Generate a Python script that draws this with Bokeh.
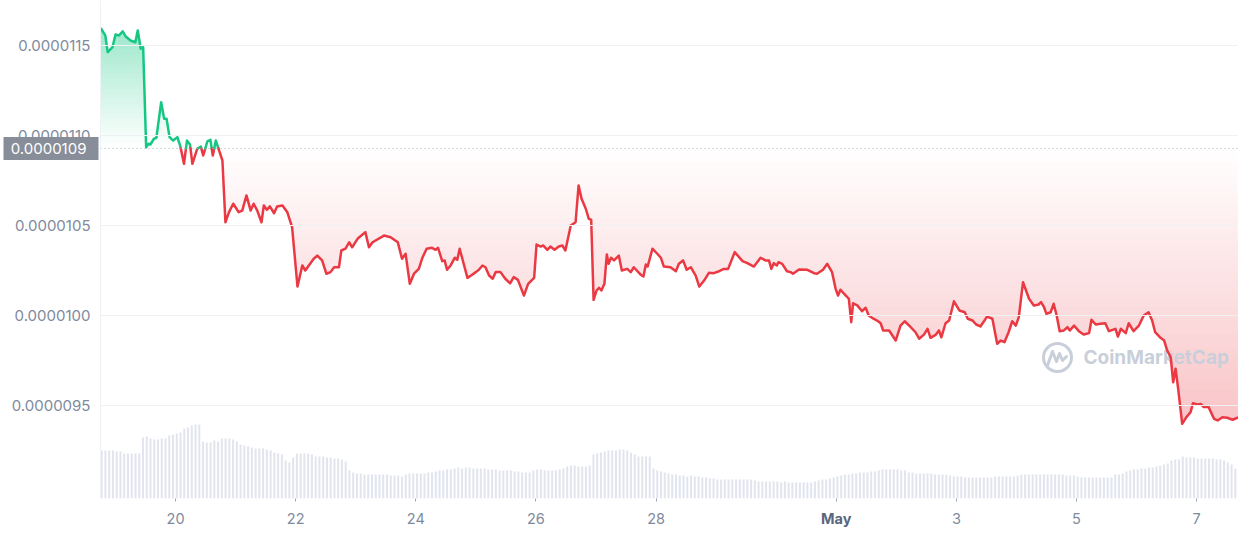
import numpy as np
from bokeh.plotting import figure
from bokeh.models import (Range1d, FixedTicker, NumeralTickFormatter, Span, LinearAxis,
                          CustomJSTickFormatter)
from bokeh.embed import file_html
from bokeh.resources import INLINE
from bokeh.core.properties import value

# ---- data (x = day counted from 1 April; 31 = 1 May) ----
price_day = [
    18.76, 18.83, 18.87, 18.95, 19.00, 19.06, 19.12, 19.17, 19.25, 19.33,
    19.37, 19.42, 19.46, 19.51, 19.55, 19.58, 19.64, 19.68, 19.76, 19.81,
    19.85, 19.90, 19.96, 20.03, 20.08, 20.14, 20.19, 20.24, 20.28, 20.36,
    20.42, 20.46, 20.53, 20.58, 20.62, 20.67, 20.72, 20.78, 20.83, 20.89,
    20.96, 21.05, 21.11, 21.18, 21.25, 21.30, 21.36, 21.43, 21.47, 21.52,
    21.57, 21.64, 21.69, 21.78, 21.86, 21.94, 22.03, 22.11, 22.16, 22.30,
    22.36, 22.44, 22.51, 22.58, 22.64, 22.72, 22.76, 22.83, 22.89, 22.94,
    23.03, 23.16, 23.22, 23.28, 23.47, 23.58, 23.70, 23.77, 23.83, 23.90,
    23.97, 24.05, 24.11, 24.18, 24.27, 24.33, 24.37, 24.44, 24.48, 24.52,
    24.58, 24.65, 24.69, 24.73, 24.86, 24.92, 25.00, 25.05, 25.11, 25.16,
    25.22, 25.28, 25.33, 25.41, 25.49, 25.57, 25.63, 25.70, 25.80, 25.87,
    25.97, 26.01, 26.08, 26.12, 26.19, 26.24, 26.31, 26.38, 26.44, 26.49,
    26.58, 26.66, 26.71, 26.76, 26.83, 26.88, 26.92, 26.96, 27.01, 27.05,
    27.09, 27.14, 27.18, 27.21, 27.25, 27.30, 27.38, 27.43, 27.52, 27.58,
    27.63, 27.74, 27.79, 27.83, 27.86, 27.94, 28.02, 28.08, 28.13, 28.24,
    28.33, 28.38, 28.45, 28.51, 28.58, 28.66, 28.72, 28.80, 28.88, 28.96,
    29.05, 29.13, 29.20, 29.31, 29.44, 29.52, 29.63, 29.74, 29.82, 29.88,
    29.92, 29.96, 30.01, 30.04, 30.10, 30.18, 30.24, 30.28, 30.38, 30.52,
    30.63, 30.68, 30.78, 30.85, 30.93, 30.99, 31.03, 31.07, 31.16, 31.21,
    31.25, 31.28, 31.35, 31.43, 31.49, 31.54, 31.62, 31.68, 31.74, 31.78,
    31.88, 31.99, 32.07, 32.14, 32.24, 32.32, 32.38, 32.46, 32.52, 32.57,
    32.66, 32.71, 32.75, 32.82, 32.88, 32.96, 33.05, 33.14, 33.19, 33.27,
    33.33, 33.40, 33.46, 33.51, 33.60, 33.68, 33.74, 33.80, 33.87, 33.93,
    33.99, 34.04, 34.11, 34.21, 34.29, 34.37, 34.41, 34.46, 34.50, 34.57,
    34.62, 34.67, 34.72, 34.79, 34.85, 34.89, 34.96, 35.04, 35.12, 35.21,
    35.25, 35.32, 35.40, 35.48, 35.54, 35.65, 35.69, 35.74, 35.82, 35.87,
    35.95, 36.04, 36.12, 36.20, 36.26, 36.31, 36.40, 36.46, 36.51, 36.57,
    36.61, 36.65, 36.69, 36.76, 36.83, 36.90, 36.94, 37.01, 37.07, 37.12,
    37.20, 37.29, 37.35, 37.43, 37.51, 37.60, 37.68,
]
price = [
    115.93e-7, 115.56e-7, 114.63e-7, 114.91e-7, 115.61e-7, 115.56e-7, 115.79e-7, 115.50e-7, 115.28e-7, 115.18e-7,
    115.83e-7, 114.82e-7, 114.91e-7, 109.35e-7, 109.54e-7, 109.50e-7, 109.82e-7, 109.87e-7, 111.85e-7, 110.93e-7,
    110.93e-7, 109.91e-7, 109.72e-7, 109.91e-7, 109.39e-7, 108.43e-7, 109.72e-7, 109.50e-7, 108.43e-7, 109.26e-7,
    109.39e-7, 108.89e-7, 109.68e-7, 109.76e-7, 108.89e-7, 109.72e-7, 109.21e-7, 108.61e-7, 105.18e-7, 105.74e-7,
    106.21e-7, 105.74e-7, 105.83e-7, 106.67e-7, 105.83e-7, 106.21e-7, 105.83e-7, 105.18e-7, 106.11e-7, 105.87e-7,
    106.06e-7, 105.68e-7, 106.06e-7, 106.11e-7, 105.74e-7, 104.91e-7, 101.61e-7, 102.78e-7, 102.50e-7, 103.15e-7,
    103.33e-7, 103.06e-7, 102.32e-7, 102.41e-7, 102.68e-7, 102.68e-7, 103.61e-7, 103.71e-7, 104.07e-7, 103.79e-7,
    104.26e-7, 104.63e-7, 103.79e-7, 104.07e-7, 104.44e-7, 104.35e-7, 104.07e-7, 103.15e-7, 103.43e-7, 101.76e-7,
    102.32e-7, 102.59e-7, 103.21e-7, 103.71e-7, 103.76e-7, 103.65e-7, 103.76e-7, 103.02e-7, 103.06e-7, 102.54e-7,
    102.78e-7, 103.21e-7, 103.09e-7, 103.71e-7, 102.09e-7, 102.22e-7, 102.41e-7, 102.54e-7, 102.78e-7, 102.68e-7,
    102.22e-7, 102.04e-7, 102.41e-7, 102.41e-7, 102.04e-7, 101.79e-7, 102.13e-7, 101.98e-7, 101.11e-7, 101.76e-7,
    102.09e-7, 103.94e-7, 103.83e-7, 103.89e-7, 103.65e-7, 103.83e-7, 103.65e-7, 103.83e-7, 103.89e-7, 103.61e-7,
    105.00e-7, 105.18e-7, 107.22e-7, 106.48e-7, 105.93e-7, 105.37e-7, 105.32e-7, 100.87e-7, 101.39e-7, 101.54e-7,
    101.39e-7, 101.76e-7, 103.39e-7, 102.87e-7, 103.21e-7, 103.06e-7, 103.33e-7, 102.50e-7, 102.59e-7, 102.41e-7,
    102.68e-7, 102.28e-7, 102.17e-7, 102.83e-7, 102.72e-7, 103.71e-7, 103.43e-7, 103.21e-7, 102.72e-7, 102.68e-7,
    102.46e-7, 102.87e-7, 103.06e-7, 102.54e-7, 102.68e-7, 102.22e-7, 101.61e-7, 101.94e-7, 102.37e-7, 102.35e-7,
    102.46e-7, 102.59e-7, 102.59e-7, 103.52e-7, 103.02e-7, 102.91e-7, 102.72e-7, 103.21e-7, 103.06e-7, 103.06e-7,
    102.59e-7, 102.91e-7, 102.78e-7, 102.96e-7, 102.87e-7, 102.46e-7, 102.41e-7, 102.32e-7, 102.56e-7, 102.54e-7,
    102.35e-7, 102.32e-7, 102.54e-7, 102.87e-7, 102.41e-7, 101.48e-7, 101.11e-7, 101.43e-7, 101.11e-7, 100.93e-7,
    99.63e-7, 100.68e-7, 100.56e-7, 100.24e-7, 100.43e-7, 100.00e-7, 99.82e-7, 99.72e-7, 99.57e-7, 99.17e-7,
    99.17e-7, 98.61e-7, 99.44e-7, 99.68e-7, 99.35e-7, 99.07e-7, 98.71e-7, 98.94e-7, 99.26e-7, 98.76e-7,
    98.94e-7, 99.17e-7, 98.79e-7, 99.57e-7, 99.72e-7, 100.79e-7, 100.28e-7, 100.18e-7, 99.82e-7, 99.72e-7,
    99.50e-7, 99.39e-7, 99.68e-7, 99.94e-7, 99.82e-7, 98.43e-7, 98.61e-7, 98.52e-7, 99.07e-7, 99.68e-7,
    99.44e-7, 99.91e-7, 101.85e-7, 100.93e-7, 100.56e-7, 100.61e-7, 100.74e-7, 100.46e-7, 100.09e-7, 100.18e-7,
    100.65e-7, 100.00e-7, 99.13e-7, 99.17e-7, 99.35e-7, 99.17e-7, 99.44e-7, 99.13e-7, 98.94e-7, 99.02e-7,
    99.76e-7, 99.50e-7, 99.54e-7, 99.57e-7, 99.13e-7, 99.26e-7, 98.83e-7, 99.26e-7, 99.02e-7, 99.57e-7,
    99.13e-7, 99.44e-7, 100.00e-7, 100.18e-7, 99.72e-7, 99.07e-7, 98.76e-7, 98.61e-7, 98.06e-7, 97.68e-7,
    96.29e-7, 97.04e-7, 96.02e-7, 93.98e-7, 94.35e-7, 94.63e-7, 95.13e-7, 95.06e-7, 95.09e-7, 94.91e-7,
    94.91e-7, 94.26e-7, 94.17e-7, 94.35e-7, 94.32e-7, 94.21e-7, 94.32e-7,
]
ref_price = 109.28e-7
ref_label = "0.0000109"

# volume bars, one every 1.5 hours (arbitrary units)
vol_start_day = 18.77
vol_step_day = 1 / 16
volume = [
    48, 48, 48, 48, 47, 47, 45, 45, 45, 45, 45,
    61, 62, 60, 59, 59, 60, 60, 63, 64, 65,
    66, 70, 71, 73, 74, 74, 57, 56, 56, 58,
    57, 60, 60, 60, 59, 57, 54, 53, 52, 51,
    50, 50, 50, 49, 48, 46, 45, 44, 38, 36,
    41, 45, 45, 45, 45, 44, 42, 42, 42, 41,
    41, 40, 40, 39, 37, 28, 26, 25, 25, 24,
    24, 24, 24, 24, 24, 24, 23, 23, 23, 22,
    24, 25, 25, 25, 25, 25, 26, 26, 27, 28,
    28, 29, 29, 30, 31, 30, 31, 31, 30, 30,
    30, 30, 29, 29, 29, 28, 28, 28, 28, 27,
    27, 26, 26, 26, 28, 29, 29, 28, 28, 28,
    28, 29, 30, 32, 33, 33, 32, 32, 32, 33,
    44, 45, 46, 47, 48, 48, 48, 49, 49, 48,
    46, 44, 42, 42, 42, 42, 30, 28, 27, 26,
    25, 24, 24, 23, 23, 22, 23, 22, 22, 21,
    21, 20, 20, 19, 19, 19, 19, 19, 19, 19,
    19, 19, 19, 18, 17, 17, 17, 17, 17, 17,
    16, 17, 16, 16, 16, 16, 16, 16, 16, 17,
    18, 19, 19, 20, 21, 22, 23, 24, 24, 25,
    25, 26, 26, 26, 27, 27, 28, 29, 29, 29,
    29, 29, 28, 28, 26, 26, 25, 25, 25, 25,
    25, 24, 24, 24, 24, 23, 22, 22, 22, 21,
    21, 21, 21, 21, 21, 21, 21, 22, 22, 22,
    22, 22, 22, 23, 24, 24, 24, 24, 24, 24,
    24, 24, 24, 24, 24, 24, 23, 23, 23, 22,
    21, 21, 21, 21, 21, 21, 21, 21, 21, 24,
    24, 25, 27, 28, 29, 29, 30, 30, 31, 31,
    32, 33, 34, 35, 38, 39, 39, 42, 41, 41,
    41, 40, 40, 40, 40, 40, 39, 39, 38, 36,
    34, 30,
]

x_tick_days = [20, 22, 24, 26, 28, 31, 33, 35, 37]
x_tick_labels = ["20", "22", "24", "26", "28", "May", "3", "5", "7"]
y_ticks = [95e-7, 100e-7, 105e-7, 110e-7, 115e-7]

# ---- styling ----
GREEN = (22, 199, 132)
RED = (234, 57, 67)
GREEN_HEX = "#16c784"
RED_HEX = "#ea3943"
FONT = "Inter"
LABEL_COLOR = "#808a9d"
GRID_COLOR = "#eff2f5"
BOX_COLOR = "#878d99"

FRAME_W, FRAME_H = 1138, 498
PX_PER_DAY = 60.06
X0 = 18.75
X1 = X0 + FRAME_W / PX_PER_DAY
Y1 = 117.5e-7
Y0 = Y1 - FRAME_H / 18 * 1e-7


def sx(px):  # page-pixel helpers, used for the watermark decoration only
    return X0 + (px - 100) / PX_PER_DAY


def sy(py):
    return Y1 - py / 18 * 1e-7


def tint(rgb, a):
    r, g, b = (round(255 - a * (255 - c)) for c in rgb)
    return "#%02x%02x%02x" % (r, g, b)


def with_crossings(x, y, t):
    xs, ys = [x[0]], [y[0]]
    for i in range(1, len(x)):
        if (y[i - 1] - t) * (y[i] - t) < 0:
            f = (t - y[i - 1]) / (y[i] - y[i - 1])
            xs.append(x[i - 1] + f * (x[i] - x[i - 1]))
            ys.append(t)
        xs.append(x[i]); ys.append(y[i])
    return np.array(xs), np.array(ys)


p = figure(frame_width=FRAME_W, frame_height=FRAME_H,
           x_range=Range1d(X0, X1), y_range=Range1d(Y0, Y1),
           output_backend="svg", toolbar_location=None,
           min_border_left=100, min_border_right=0, min_border_top=0, min_border_bottom=0,
           background_fill_color="white", border_fill_color="white")
p.outline_line_color = None
p.extra_y_ranges = {"vol": Range1d(0, FRAME_H)}

d = np.array(price_day)
pr = np.array(price)

# gradient area fills: opaque stacked layers, darker further from the reference
N_G, A_G = 24, 0.42
top = pr.max()
for k in range(N_G):
    t = ref_price + (top - ref_price) * k / N_G
    xs, ys = with_crossings(d, pr, t)
    p.varea(x=xs, y1=np.full_like(ys, t), y2=np.maximum(ys, t),
            fill_color=tint(GREEN, A_G * (k + 0.5) / N_G), level="underlay")

N_R, A_R = 40, 0.30
bot = pr.min()
for k in range(N_R):
    t = ref_price - (ref_price - bot) * k / N_R
    xs, ys = with_crossings(d, pr, t)
    p.varea(x=xs, y1=np.minimum(ys, t), y2=np.full_like(ys, t),
            fill_color=tint(RED, A_R * (k + 0.5) / N_R), level="underlay")

# volume bars
vol_x = vol_start_day + np.arange(len(volume)) * vol_step_day
p.vbar(x=vol_x, top=volume, bottom=0, width=0.034, y_range_name="vol",
       fill_color="#e2e5ee", line_color=None)

# reference dotted line
p.add_layout(Span(location=ref_price, dimension="width", line_color="#a7afbf",
                  line_dash="1 3", line_width=1, level="glyph"))

# watermark
WM = "#c9cfda"
p.text(x=[sx(1083)], y=[sy(357)], text=["CoinMarketCap"], text_font=value(FONT),
       text_font_size="19px", text_font_style="bold", text_color=WM,
       text_baseline="middle", text_align="left")
p.scatter(x=[sx(1057)], y=[sy(357)], size=28, marker="circle", fill_color=None,
          line_color=WM, line_width=3)
p.line(x=[sx(1047), sx(1052), sx(1056), sx(1059), sx(1062), sx(1066)],
       y=[sy(365), sy(351), sy(361), sy(353), sy(360), sy(356)],
       line_color=WM, line_width=3, line_join="round", line_cap="round")

# price line split into green (above ref) / red (below ref) runs
runs_x, runs_y, runs_c = [], [], []
cx, cy, cup = [d[0]], [pr[0]], pr[0] >= ref_price
for i in range(1, len(d)):
    up = pr[i] >= ref_price
    if up == cup:
        cx.append(d[i]); cy.append(pr[i])
    else:
        f = (ref_price - pr[i - 1]) / (pr[i] - pr[i - 1])
        xm = d[i - 1] + f * (d[i] - d[i - 1])
        cx.append(xm); cy.append(ref_price)
        runs_x.append(cx); runs_y.append(cy); runs_c.append(GREEN_HEX if cup else RED_HEX)
        cx, cy, cup = [xm, d[i]], [ref_price, pr[i]], up
runs_x.append(cx); runs_y.append(cy); runs_c.append(GREEN_HEX if cup else RED_HEX)
p.multi_line(xs=runs_x, ys=runs_y, line_color=runs_c, line_width=2.5,
             line_join="round", line_cap="round")

# ---- axes ----
xa = p.xaxis[0]
xa.ticker = FixedTicker(ticks=x_tick_days)
xa.major_label_overrides = {dd: (lab if lab.isdigit() else "") for dd, lab in zip(x_tick_days, x_tick_labels)}
xa.axis_line_color = None
xa.major_tick_line_color = "#a1a7bb"
xa.major_tick_out = 3
xa.major_tick_in = 0
xa.minor_tick_line_color = None
xa.major_label_standoff = 11
xa.major_label_text_font = FONT
xa.major_label_text_font_size = "14.5px"
xa.major_label_text_color = LABEL_COLOR

# month names (bold) on a second, zero-height axis overlaid on the first
month_days = [dd for dd, lab in zip(x_tick_days, x_tick_labels) if not lab.isdigit()]
month_labels = {dd: lab for dd, lab in zip(x_tick_days, x_tick_labels) if not lab.isdigit()}
xa2 = LinearAxis(ticker=FixedTicker(ticks=month_days), major_label_overrides=month_labels,
                 axis_line_color=None, major_tick_line_color=None, minor_tick_line_color=None,
                 major_tick_out=0, major_tick_in=0, major_label_standoff=-17,
                 major_label_text_font=FONT, major_label_text_font_size="14.5px",
                 major_label_text_font_style="bold", major_label_text_color="#58667e")
p.add_layout(xa2, "below")

ya = p.yaxis[0]
ya.ticker = FixedTicker(ticks=y_ticks)
ya.formatter = NumeralTickFormatter(format="0.0000000")
ya.major_tick_line_color = None
ya.minor_tick_line_color = None
ya.major_tick_out = 0
ya.major_tick_in = 0
ya.axis_line_color = GRID_COLOR
ya.major_label_standoff = 10
ya.major_label_text_font = FONT
ya.major_label_text_font_size = "15px"
ya.major_label_text_color = LABEL_COLOR

# reference-price box: a second left axis whose single tick is a thick grey bar
ya2 = LinearAxis(ticker=FixedTicker(ticks=[ref_price]),
                 formatter=CustomJSTickFormatter(code="return '%s'" % ref_label),
                 axis_line_color=None, minor_tick_line_color=None,
                 major_tick_line_color=BOX_COLOR, major_tick_line_width=23,
                 major_tick_in=90, major_tick_out=5, major_label_standoff=-83,
                 major_label_text_font=FONT, major_label_text_font_size="15px",
                 major_label_text_color="white")
p.add_layout(ya2, "left")

p.xgrid.grid_line_color = None
p.ygrid.ticker = FixedTicker(ticks=y_ticks)
p.ygrid.grid_line_color = GRID_COLOR
p.ygrid.level = "glyph"

open("out.html", "w").write(file_html(p, INLINE))
